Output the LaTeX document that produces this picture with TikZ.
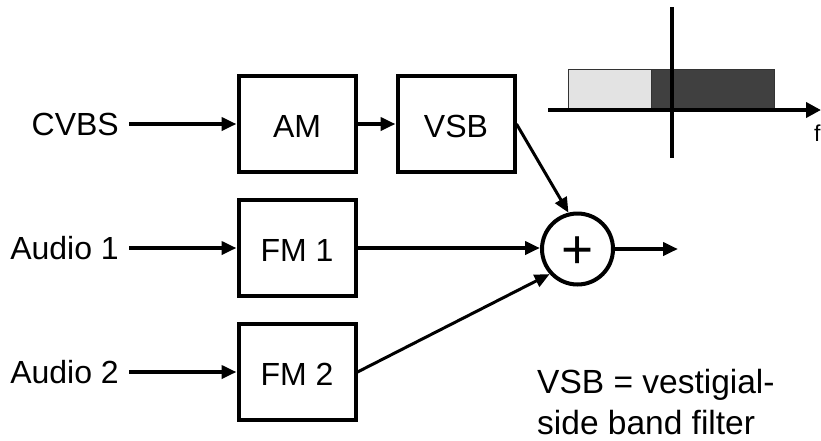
\documentclass[tikz,border=0pt]{standalone}
\usepackage{fontspec}
\setmainfont{Liberation Sans}
\usetikzlibrary{arrows.meta}
\definecolor{lightband}{HTML}{E3E3E3}
\definecolor{darkband}{HTML}{404040}
\tikzset{
  blockbox/.style={draw, line width=4pt, minimum width=117pt, minimum height=96pt,
    inner sep=0pt, font=\fontsize{32}{38}\selectfont, text height=26pt, text depth=0pt},
  siglabel/.style={inner xsep=10pt, inner ysep=0pt, anchor=east, font=\fontsize{32}{38}\selectfont},
  sigarrow/.style={line width=4pt, -{Triangle[length=15pt,width=13pt]}},
  diagarrow/.style={line width=3pt, -{Triangle[length=15pt,width=13pt]}},
  sumnode/.style={draw, circle, line width=4pt, minimum size=71pt, inner sep=0pt},
  plussign/.style={inner sep=0pt, anchor=base, font=\fontsize{55}{60}\selectfont},
  axisline/.style={line width=4pt},
  band/.style={draw=black!80, line width=1pt},
  notetext/.style={inner sep=0pt, anchor=north west, align=left, font=\fontsize{33.5}{41}\selectfont},
  freqlabel/.style={inner sep=0pt, anchor=west, font=\fontsize{23}{26}\selectfont}
}
\begin{document}
\begin{tikzpicture}[x=1pt, y=-1pt]
\useasboundingbox (0,0) rectangle (821,440);

% blocks
\node[blockbox] (am)  at (297,124) {AM};
\node[blockbox] (vsb) at (456,124) {VSB};
\node[blockbox] (fm1) at (297,248) {FM 1};
\node[blockbox] (fm2) at (297,372) {FM 2};

% input labels
\node[siglabel] (cvbs) at (129,124) {CVBS};
\node[siglabel] (aud1) at (129,248) {Audio 1};
\node[siglabel] (aud2) at (129,372) {Audio 2};

% summing node
\node[sumnode] (sum) at (577.5,249) {};
\node[plussign] (plus) at (577.5,268.4) {+};
\coordinate (out) at (678,249);

% connectors
\draw[sigarrow] (cvbs.east) -- (am.west);
\draw[sigarrow] (am.east) -- (vsb.west);
\draw[sigarrow] (aud1.east) -- (fm1.west);
\draw[sigarrow] (aud2.east) -- (fm2.west);
\draw[sigarrow] (fm1.east) -- (sum.west |- fm1.east);
\draw[diagarrow] (vsb.east) -- (sum.104);
\draw[diagarrow] (fm2.east) -- (sum.222);
\draw[sigarrow] (sum.east) -- (out);

% spectrum sketch
\fill[lightband] (568,69) rectangle (651,110);
\fill[darkband] (651,69) rectangle (774,110);
\draw[band] (568,69) rectangle (651,110);
\draw[band] (651,69) rectangle (774,110);
\coordinate (haxL) at (548,110);
\coordinate (haxR) at (821,110);
\coordinate (vaxT) at (672,7);
\coordinate (vaxB) at (672,158);
\draw[axisline] (vaxT) -- (vaxB);
\draw[axisline, -{Triangle[length=15pt,width=15pt]}] (haxL) -- (haxR);
\node[freqlabel] (f) at (814,133) {f};

% note
\node[notetext] (note) at (537,369) {VSB = vestigial-\\side band filter};
\end{tikzpicture}
\end{document}
